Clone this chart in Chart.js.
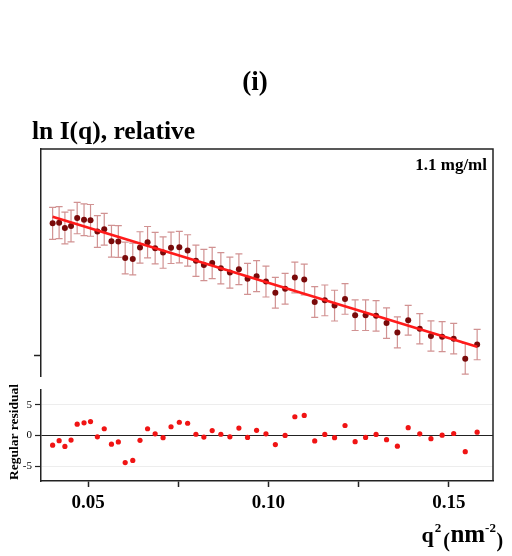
<!DOCTYPE html>
<html>
<head>
<meta charset="utf-8">
<script src="https://cdn.jsdelivr.net/npm/chart.js@4.4.0/dist/chart.umd.min.js"></script>
<style>
    body { margin: 0; background: #fff; width: 512px; height: 556px; position: relative; overflow: hidden; }
    canvas { position: absolute; left: 0; }
    #topChart { top: 0; }
    #residChart { top: 380px; }
</style>
</head>
<body>
<canvas id="topChart" width="512" height="380"></canvas>
<canvas id="residChart" width="512" height="176"></canvas>
<script>
// --- データ ---
const qSquared = [
    0.0402, 0.0420, 0.0436, 0.0453, 0.0470, 0.0489, 0.0507, 0.0526, 0.0545, 0.0565,
    0.0584, 0.0603, 0.0624, 0.0644, 0.0665, 0.0686, 0.0708, 0.0730, 0.0753, 0.0776,
    0.0799, 0.0821, 0.0844, 0.0868, 0.0893, 0.0918, 0.0942, 0.0967, 0.0993, 0.1019,
    0.1046, 0.1073, 0.1099, 0.1128, 0.1156, 0.1183, 0.1212, 0.1240, 0.1269, 0.1298,
    0.1327, 0.1357, 0.1387, 0.1419, 0.1450, 0.1481, 0.1513, 0.1545, 0.1578
];
const lnI = [
    1.333, 1.340, 1.286, 1.306, 1.386, 1.370, 1.363, 1.250, 1.273, 1.153,
    1.150, 0.983, 0.973, 1.090, 1.143, 1.083, 1.038, 1.086, 1.093, 1.060,
    0.956, 0.913, 0.933, 0.880, 0.836, 0.870, 0.773, 0.800, 0.746, 0.633,
    0.673, 0.786, 0.766, 0.540, 0.556, 0.503, 0.570, 0.406, 0.406, 0.400,
    0.327, 0.233, 0.356, 0.270, 0.196, 0.190, 0.170, -0.034, 0.110
];
const lnIError = [
    0.162, 0.162, 0.160, 0.160, 0.158, 0.160, 0.160, 0.160, 0.160, 0.160,
    0.160, 0.160, 0.160, 0.158, 0.158, 0.158, 0.158, 0.158, 0.158, 0.158,
    0.157, 0.157, 0.157, 0.157, 0.156, 0.156, 0.156, 0.156, 0.156, 0.155,
    0.155, 0.155, 0.155, 0.155, 0.155, 0.155, 0.154, 0.154, 0.154, 0.154,
    0.154, 0.157, 0.150, 0.153, 0.153, 0.152, 0.153, 0.155, 0.153
];
const residuals = [
    -1.59, -0.85, -1.80, -0.75, 1.84, 2.06, 2.27, -0.22, 1.10, -1.43,
    -1.06, -4.44, -4.08, -0.80, 1.10, 0.26, -0.37, 1.42, 2.16, 2.00,
    0.20, -0.27, 0.79, 0.20, -0.22, 1.21, -0.32, 0.84, 0.26, -1.49,
    0.00, 3.06, 3.27, -0.90, 0.16, -0.37, 1.63, -1.01, -0.32, 0.16,
    -0.69, -1.75, 1.27, 0.26, -0.53, 0.05, 0.32, -2.65, 0.53
];
// Guinier フィット直線の両端
const fitX = [0.0402, 0.1578];
const fitY = [1.400, 0.088];

// 軸の範囲と目盛り
const xRange = [0.03698, 0.16219];
const lnIRange = [-0.207, 2.083];
const lnITicks = [0];
const residRange = [-7.45, 7.5];
const residTicks = [-5, 0, 5];
const residTickLabels = ['-5', '0', '5'];
const xTicks = [0.05, 0.075, 0.10, 0.125, 0.15];
const xTickLabels = ['0.05', '', '0.10', '', '0.15'];

const SERIF = '"Liberation Serif", "Times New Roman", serif';

// --- エラーバー描画プラグイン ---
const errorBars = {
    id: 'errorBars',
    beforeDatasetsDraw(chart) {
        const { ctx, scales: { x, y } } = chart;
        ctx.save();
        ctx.strokeStyle = 'rgba(190, 100, 100, 0.7)';
        ctx.lineWidth = 1.2;
        qSquared.forEach((q, i) => {
            const px = x.getPixelForValue(q);
            const top = y.getPixelForValue(lnI[i] + lnIError[i]);
            const bot = y.getPixelForValue(lnI[i] - lnIError[i]);
            ctx.beginPath();
            ctx.moveTo(px, top); ctx.lineTo(px, bot);
            ctx.moveTo(px - 3.5, top); ctx.lineTo(px + 3.5, top);
            ctx.moveTo(px - 3.5, bot); ctx.lineTo(px + 3.5, bot);
            ctx.stroke();
        });
        ctx.restore();
    }
};

// --- 枠線とテキスト（上のパネル） ---
const topDecor = {
    id: 'topDecor',
    afterDraw(chart) {
        const { ctx, chartArea: a } = chart;
        ctx.save();
        ctx.strokeStyle = '#222';
        ctx.lineWidth = 1.5;
        ctx.beginPath();
        ctx.moveTo(a.left, a.top);
        ctx.lineTo(a.right, a.top);
        ctx.lineTo(a.right, chart.height);
        ctx.stroke();

        ctx.fillStyle = '#000';
        ctx.font = 'bold 27px ' + SERIF;
        ctx.textAlign = 'center';
        ctx.fillText('(i)', 255, 90);

        ctx.font = 'bold 25.5px ' + SERIF;
        ctx.textAlign = 'left';
        ctx.fillText('ln I(q), relative', 32, 139);

        ctx.font = 'bold 17px ' + SERIF;
        ctx.textAlign = 'right';
        ctx.fillText('1.1 mg/ml', 487, 170);
        ctx.restore();
    }
};

// --- 枠線とテキスト（残差パネル） ---
const residDecor = {
    id: 'residDecor',
    afterDraw(chart) {
        const { ctx, chartArea: a } = chart;
        ctx.save();
        ctx.strokeStyle = '#222';
        ctx.lineWidth = 1.5;
        ctx.beginPath();
        ctx.moveTo(a.right, 0);
        ctx.lineTo(a.right, a.bottom);
        ctx.stroke();

        ctx.fillStyle = '#000';
        // 縦軸タイトル
        ctx.save();
        ctx.translate(15, 52);
        ctx.rotate(-Math.PI / 2);
        ctx.font = 'bold 13.5px ' + SERIF;
        ctx.textAlign = 'center';
        ctx.textBaseline = 'middle';
        ctx.fillText('Regular residual', 0, 0);
        ctx.restore();

        // 横軸タイトル q^2 (nm^-2)
        ctx.textAlign = 'left';
        let x = 421.5;
        const piece = (text, size, baseline, gap) => {
            ctx.font = 'bold ' + size + 'px ' + SERIF;
            ctx.fillText(text, x, baseline);
            x += ctx.measureText(text).width + gap;
        };
        piece('q', 22, 162, 1);
        piece('2', 13, 152, 2);
        piece('(', 20, 167, 0.5);
        piece('nm', 25, 162, 0);
        piece('-2', 13, 152, 0.5);
        piece(')', 20, 167, 0);
        ctx.restore();
    }
};

// --- 上のパネル: ln I(q) ---
new Chart(document.getElementById('topChart'), {
    type: 'scatter',
    data: {
        datasets: [{
            type: 'line',
            label: 'fit',
            data: fitX.map((q, i) => ({ x: q, y: fitY[i] })),
            borderColor: '#ff1a1a',
            borderWidth: 2.5,
            pointRadius: 0,
            fill: false
        }, {
            label: 'ln I',
            data: qSquared.map((q, i) => ({ x: q, y: lnI[i] })),
            backgroundColor: '#7a0a0a',
            borderColor: '#7a0a0a',
            pointRadius: 3,
            borderWidth: 0
        }]
    },
    options: {
        responsive: false,
        animation: false,
        layout: { padding: { top: 149, right: 19, left: 0, bottom: 2 } },
        plugins: { legend: { display: false }, tooltip: { enabled: false } },
        scales: {
            x: { type: 'linear', min: xRange[0], max: xRange[1], display: false },
            y: {
                min: lnIRange[0], max: lnIRange[1],
                afterBuildTicks: s => { s.ticks = lnITicks.map(v => ({ value: v })); },
                afterFit: s => { s.width = 41; },
                ticks: { display: false },
                grid: { drawOnChartArea: false, tickLength: 7, tickColor: '#222', tickWidth: 1.5 },
                border: { display: true, color: '#222', width: 1.5 }
            }
        }
    },
    plugins: [errorBars, topDecor]
});

// --- 下のパネル: 残差 ---
new Chart(document.getElementById('residChart'), {
    type: 'scatter',
    data: {
        datasets: [{
            label: 'residual',
            data: qSquared.map((q, i) => ({ x: q, y: residuals[i] })),
            backgroundColor: '#f01414',
            borderColor: '#f01414',
            pointRadius: 2.6,
            borderWidth: 0
        }]
    },
    options: {
        responsive: false,
        animation: false,
        layout: { padding: { top: 1, right: 19, left: 0, bottom: 0 } },
        plugins: { legend: { display: false }, tooltip: { enabled: false } },
        scales: {
            x: {
                type: 'linear', min: xRange[0], max: xRange[1],
                afterBuildTicks: s => { s.ticks = xTicks.map(v => ({ value: v })); },
                afterFit: s => { s.height = 75; },
                ticks: {
                    autoSkip: false, maxRotation: 0, padding: 5,
                    color: '#000',
                    font: { family: SERIF, size: 19, weight: 'bold' },
                    callback: (v, i) => xTickLabels[i]
                },
                grid: { drawOnChartArea: false, tickLength: 6, tickColor: '#222', tickWidth: 1.5 },
                border: { display: true, color: '#222', width: 1.5 }
            },
            y: {
                min: residRange[0], max: residRange[1],
                afterBuildTicks: s => { s.ticks = residTicks.map(v => ({ value: v })); },
                afterFit: s => { s.width = 41; },
                ticks: {
                    padding: 3, color: '#000',
                    font: { family: SERIF, size: 11 },
                    callback: (v, i) => residTickLabels[i]
                },
                grid: {
                    color: c => (c.tick && c.tick.value === 0) ? '#222' : 'rgba(0,0,0,0.07)',
                    lineWidth: 1,
                    tickLength: 6, tickColor: '#222', tickWidth: 1.2
                },
                border: { display: true, color: '#222', width: 1.5 }
            }
        }
    },
    plugins: [residDecor]
});
</script>
</body>
</html>
